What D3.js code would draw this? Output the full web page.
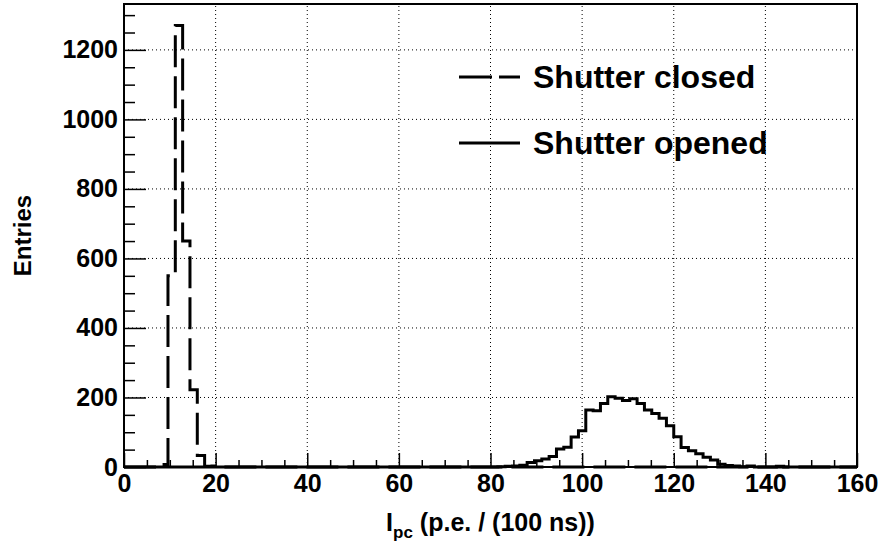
<!DOCTYPE html>
<html>
<head>
<meta charset="utf-8">
<script src="https://cdn.jsdelivr.net/npm/d3@7"></script>
<style>
  body { margin: 0; background: #fff; }
  text { font-family: "Liberation Sans", Arial, Helvetica, sans-serif; font-weight: bold; }
</style>
</head>
<body>
<div id="chart"></div>
<script>
// histogram: 100 bins over 0..160 (bin width 1.6)
var nBins = 100;
var xMin = 0, xMax = 160;

// shutter closed: counts starting at bin 5 (x = 8.0)
var closedFirstBin = 5;
var closedCounts = [7, 550, 1270, 650, 222, 33, 2, 3];

// shutter opened: counts starting at bin 51 (x = 81.6)
var openFirstBin = 51;
var openCounts = [1, 2, 3, 5, 13, 18, 23, 30, 52, 57, 86, 104, 164, 162, 183, 202,
  198, 191, 196, 183, 164, 154, 140, 119, 87, 56, 47, 38, 28, 20, 8, 4, 3, 1, 3, 0, 0, 0, 2];

var xMajor = [0, 20, 40, 60, 80, 100, 120, 140, 160];
var yMajor = [0, 200, 400, 600, 800, 1000, 1200];
var yMax = 1332;

var width = 885, height = 550;
var margin = {left: 124, right: 28, top: 4, bottom: 83};

var svg = d3.select("#chart").append("svg")
  .attr("width", width)
  .attr("height", height);

var x = d3.scaleLinear().domain([xMin, xMax]).range([margin.left, width - margin.right]);
var y = d3.scaleLinear().domain([0, yMax]).range([height - margin.bottom, margin.top]);

// full bin arrays
function fillBins(first, counts) {
  var arr = new Array(nBins).fill(0);
  counts.forEach(function(c, i) { arr[first + i] = c; });
  return arr;
}
var closedBins = fillBins(closedFirstBin, closedCounts);
var openBins = fillBins(openFirstBin, openCounts);
var binW = (xMax - xMin) / nBins;

// grid (dotted)
var grid = svg.append("g");
grid.selectAll(".gx")
  .data(xMajor.slice(1, -1))
  .enter().append("line")
    .attr("x1", d => x(d)).attr("x2", d => x(d))
    .attr("y1", y(0)).attr("y2", y(yMax))
    .attr("stroke", "#000").attr("stroke-width", 1).attr("stroke-dasharray", "1,3");
grid.selectAll(".gy")
  .data(yMajor.slice(1))
  .enter().append("line")
    .attr("x1", x(xMin)).attr("x2", x(xMax))
    .attr("y1", d => y(d)).attr("y2", d => y(d))
    .attr("stroke", "#000").attr("stroke-width", 1).attr("stroke-dasharray", "1,3");

// step path for a histogram
function stepPath(arr) {
  var p = d3.path();
  p.moveTo(x(xMin), y(0));
  arr.forEach(function(c, i) {
    var x0 = xMin + i * binW, x1 = x0 + binW;
    p.lineTo(x(x0), y(c));
    p.lineTo(x(x1), y(c));
  });
  p.lineTo(x(xMax), y(0));
  return p.toString();
}

svg.append("path")
  .attr("d", stepPath(openBins))
  .attr("fill", "none")
  .attr("stroke", "#000")
  .attr("stroke-width", 3)
  .attr("stroke-linejoin", "miter");

svg.append("path")
  .attr("d", stepPath(closedBins))
  .attr("fill", "none")
  .attr("stroke", "#000")
  .attr("stroke-width", 3)
  .attr("stroke-dasharray", "32,9");

// axes (ROOT style: ticks inside)
svg.append("g")
  .attr("transform", "translate(0," + y(0) + ")")
  .call(d3.axisBottom(x).tickValues(xMajor).tickSize(-14).tickPadding(7).tickFormat(d3.format("d")));
svg.append("g")
  .attr("transform", "translate(0," + y(0) + ")")
  .call(d3.axisBottom(x).tickValues(d3.range(5, 160, 5).filter(d => d % 20)).tickSize(-7).tickFormat(""));

svg.append("g")
  .attr("transform", "translate(" + x(xMin) + ",0)")
  .call(d3.axisLeft(y).tickValues(yMajor).tickSize(-22).tickPadding(6).tickFormat(d3.format("d")));
svg.append("g")
  .attr("transform", "translate(" + x(xMin) + ",0)")
  .call(d3.axisLeft(y).tickValues(d3.range(50, 1332, 50).filter(d => d % 200)).tickSize(-11).tickFormat(""));

svg.selectAll(".domain").remove();
svg.selectAll(".tick line").attr("stroke", "#000").attr("stroke-width", 1.5);
svg.selectAll(".tick text")
  .attr("font-size", 25)
  .attr("font-family", "Liberation Sans, Arial, sans-serif")
  .attr("font-weight", "bold")
  .attr("fill", "#000");

// frame
svg.append("rect")
  .attr("x", x(xMin)).attr("y", y(yMax))
  .attr("width", x(xMax) - x(xMin)).attr("height", y(0) - y(yMax))
  .attr("fill", "none").attr("stroke", "#000").attr("stroke-width", 2);

// axis titles
var xt = svg.append("text")
  .attr("x", (x(xMin) + x(xMax)) / 2)
  .attr("y", 531)
  .attr("text-anchor", "middle")
  .attr("font-size", 25);
xt.append("tspan").text("I");
xt.append("tspan").attr("font-size", 17).attr("dy", 7).text("pc");
xt.append("tspan").attr("dy", -7).text(" (p.e. / (100 ns))");

svg.append("text")
  .attr("transform", "translate(31," + (y(0) + y(yMax)) / 2 + ") rotate(-90)")
  .attr("text-anchor", "middle")
  .attr("font-size", 24)
  .text("Entries");

// legend
var legend = [
  {label: "Shutter closed", dash: "33,7", y: 77},
  {label: "Shutter opened", dash: null, y: 143}
];
var lg = svg.append("g");
legend.forEach(function(d) {
  lg.append("line")
    .attr("x1", 459).attr("x2", 520)
    .attr("y1", d.y).attr("y2", d.y)
    .attr("stroke", "#000").attr("stroke-width", 3)
    .attr("stroke-dasharray", d.dash);
  lg.append("text")
    .attr("x", 533).attr("y", d.y + 11)
    .attr("font-size", 32)
    .text(d.label);
});
</script>
</body>
</html>
